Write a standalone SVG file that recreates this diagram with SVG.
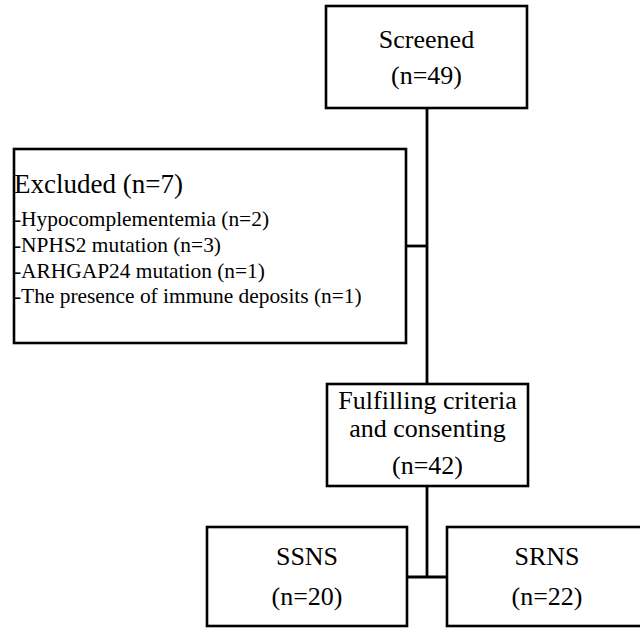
<svg xmlns="http://www.w3.org/2000/svg" width="640" height="628" viewBox="0 0 640 628" font-family="'Liberation Serif', 'Times New Roman', 'DejaVu Serif', serif">
<style>
.box{fill:#fff;stroke:#000;stroke-width:2.6}
.ln{fill:none;stroke:#000;stroke-width:2.8}
text{font-family:'Liberation Serif','Times New Roman','DejaVu Serif',serif;fill:#000}
.big{font-size:26px}
.sm{font-size:21.4px}
.c{text-anchor:middle}
</style>
<rect width="640" height="628" fill="#fff"/>
<g id="connectors">
<line class="ln" x1="427" y1="108" x2="427" y2="384"/>
<line class="ln" x1="406" y1="246" x2="427" y2="246"/>
<line class="ln" x1="427" y1="486" x2="427" y2="577"/>
<line class="ln" x1="407" y1="577" x2="447" y2="577"/>
</g>
<g id="screened">
<rect class="box" x="326" y="6" width="201" height="102"/>
<text class="big c" x="426.5" y="48">Screened</text>
<text class="big c" x="426.5" y="84">(n=49)</text>
</g>
<g id="excluded">
<rect class="box" x="14" y="149" width="392" height="194"/>
<text class="big" x="14" y="193" style="font-size:27px">Excluded (n=7)</text>
<text class="sm" x="14" y="226">-Hypocomplementemia (n=2)</text>
<text class="sm" x="14" y="252">-NPHS2 mutation (n=3)</text>
<text class="sm" x="14" y="278">-ARHGAP24 mutation (n=1)</text>
<text class="sm" x="14" y="303">-The presence of immune deposits (n=1)</text>
</g>
<g id="fulfilling">
<rect class="box" x="327" y="384" width="201" height="102"/>
<text class="big c" x="427.5" y="409">Fulfilling criteria</text>
<text class="big c" x="427.5" y="437">and consenting</text>
<text class="big c" x="427.5" y="474">(n=42)</text>
</g>
<g id="ssns">
<rect class="box" x="207" y="527" width="200" height="99"/>
<text class="big c" x="307" y="565">SSNS</text>
<text class="big c" x="307" y="605">(n=20)</text>
</g>
<g id="srns">
<rect class="box" x="447" y="527" width="203" height="99"/>
<text class="big c" x="547" y="565">SRNS</text>
<text class="big c" x="547" y="605">(n=22)</text>
</g>
</svg>
